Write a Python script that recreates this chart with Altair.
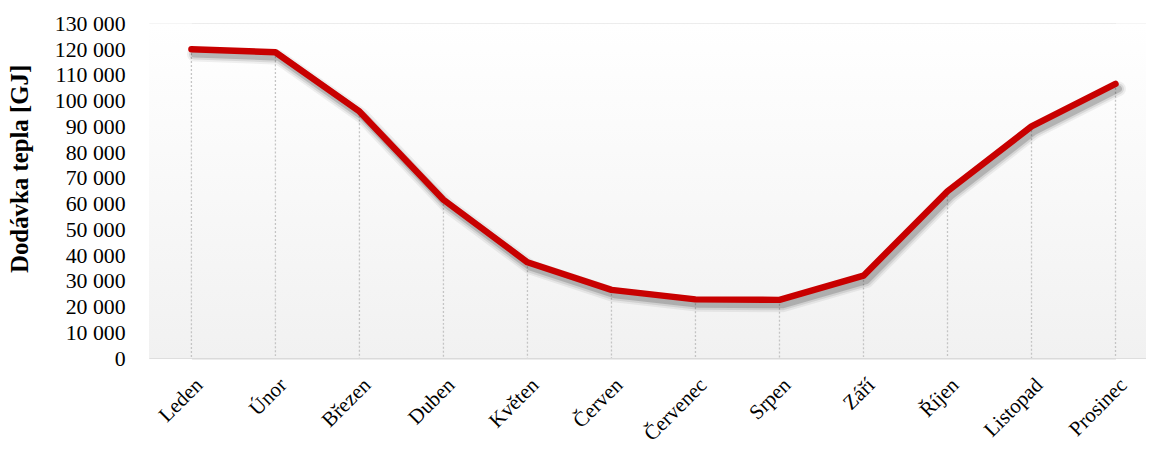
import altair as alt
import pandas as pd

months = ["Leden", "Únor", "Březen", "Duben", "Květen", "Červen",
          "Červenec", "Srpen", "Září", "Říjen", "Listopad", "Prosinec"]
heat_gj = [120000, 118800, 95800, 61500, 37200, 26500,
           22800, 22600, 32000, 64800, 90000, 106500]
y_ticks = [0, 10000, 20000, 30000, 40000, 50000, 60000, 70000,
           80000, 90000, 100000, 110000, 120000, 130000]

df = pd.DataFrame({"month": months, "heat": heat_gj})

FONT = "Liberation Serif"

x_enc = alt.X(
    "month:N", sort=months,
    scale=alt.Scale(type="point", padding=0, range=[42.7, 973.3]),
    axis=alt.Axis(title=None, labelAngle=-45, labelAlign="right", labelBaseline="top",
                  labelPadding=16, ticks=False, tickSize=0, domain=False, grid=False,
                  labelFontSize=21, labelFont=FONT, labelColor="#000000"),
)
y_enc = alt.Y(
    "heat:Q",
    scale=alt.Scale(domain=[0, 130000], nice=False),
    axis=alt.Axis(values=y_ticks,
                  labelExpr="replace(format(datum.value, ','), ',', ' ')",
                  title="Dodávka tepla [GJ]", titleFont=FONT, titleFontSize=25,
                  titleFontWeight="bold", titleColor="#000000", titleAngle=270,
                  titleBaseline="bottom", titleX=-117, titleY=146,
                  labelFont=FONT, labelFontSize=22, labelColor="#000000",
                  labelPadding=24, ticks=False, tickSize=0, domain=False,
                  grid=True, gridColor="#dadada", gridWidth=2),
)

grad = alt.LinearGradient(
    gradient="linear",
    stops=[alt.GradientStop(color="#ffffff", offset=0),
           alt.GradientStop(color="#f9f9f9", offset=0.45),
           alt.GradientStop(color="#f1f1f1", offset=1)],
    x1=0, x2=0, y1=0, y2=1,
)

bg = alt.Chart(alt.Data(values=[{"a": 1}])).mark_rect(fill=grad, stroke=None).encode(
    x=alt.value(0), x2=alt.value("width"), y=alt.value(0), y2=alt.value("height")
)

base = alt.Chart(df).encode(x=x_enc, y=y_enc)

drops = base.mark_rule(color="#c4c4c4", strokeWidth=1.3, strokeDash=[2, 2]).encode(
    y2=alt.datum(0)
)

shadow1 = base.mark_line(color="#000000", opacity=0.06, strokeWidth=15,
                         strokeCap="round", strokeJoin="round", xOffset=3, yOffset=5)
shadow2 = base.mark_line(color="#000000", opacity=0.09, strokeWidth=11,
                         strokeCap="round", strokeJoin="round", xOffset=3, yOffset=5)
shadow3 = base.mark_line(color="#000000", opacity=0.16, strokeWidth=7,
                         strokeCap="round", strokeJoin="round", xOffset=3, yOffset=5)
line = base.mark_line(color="#c80000", strokeWidth=6.5,
                      strokeCap="round", strokeJoin="round")

chart = alt.layer(bg, drops, shadow1, shadow2, shadow3, line).properties(
    width=1004, height=337,
    padding={"left": 142, "top": 14, "right": 0, "bottom": 83},
    autosize=alt.AutoSizeParams(type="none"),
).configure_view(stroke=None).configure(background="#ffffff")

chart.save("out.html", embed_options={"renderer": "svg", "actions": False})
